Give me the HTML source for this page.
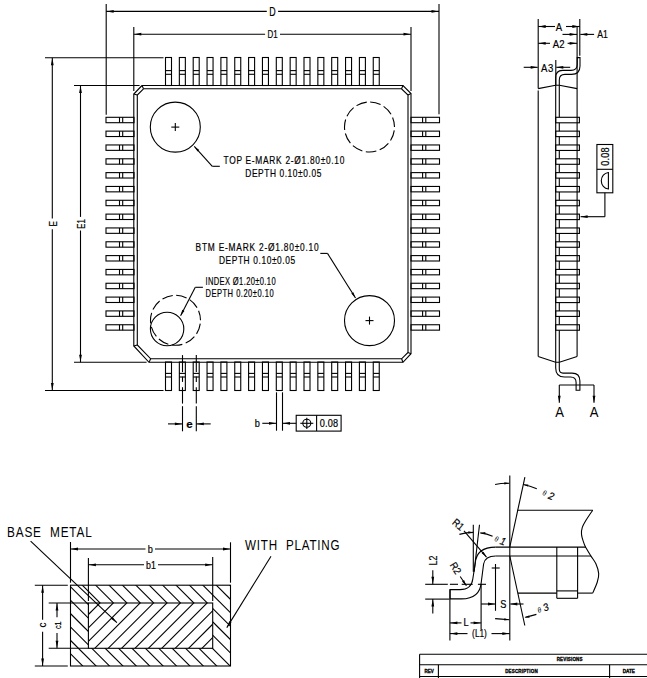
<!DOCTYPE html>
<html><head><meta charset="utf-8"><style>
html,body{margin:0;padding:0;background:#fff;width:647px;height:678px;overflow:hidden}
svg{display:block}
svg line,svg polyline,svg polygon,svg path,svg rect,svg circle{fill:none;stroke:#000;stroke-width:1.1}
svg .f{fill:#000;stroke:none}
svg .d{stroke-dasharray:10.78 3.5;stroke-dashoffset:10.8}
svg .d2{stroke-dasharray:18 4 6 4}
svg text{font-family:"Liberation Sans",sans-serif;fill:#000;stroke:#000;stroke-width:0.2}
svg text.tt{stroke:#000;stroke-width:0.35}
svg text.th{stroke:none}
</style></head><body>
<svg width="647" height="678" viewBox="0 0 647 678">
<rect x="165.50" y="57.50" width="6.00" height="28.00"/>
<line x1="165.50" y1="70.60" x2="171.50" y2="70.60"/>
<line x1="165.50" y1="74.30" x2="171.50" y2="74.30"/>
<rect x="179.35" y="57.50" width="6.00" height="28.00"/>
<line x1="179.35" y1="70.60" x2="185.35" y2="70.60"/>
<line x1="179.35" y1="74.30" x2="185.35" y2="74.30"/>
<rect x="193.20" y="57.50" width="6.00" height="28.00"/>
<line x1="193.20" y1="70.60" x2="199.20" y2="70.60"/>
<line x1="193.20" y1="74.30" x2="199.20" y2="74.30"/>
<rect x="207.05" y="57.50" width="6.00" height="28.00"/>
<line x1="207.05" y1="70.60" x2="213.05" y2="70.60"/>
<line x1="207.05" y1="74.30" x2="213.05" y2="74.30"/>
<rect x="220.90" y="57.50" width="6.00" height="28.00"/>
<line x1="220.90" y1="70.60" x2="226.90" y2="70.60"/>
<line x1="220.90" y1="74.30" x2="226.90" y2="74.30"/>
<rect x="234.75" y="57.50" width="6.00" height="28.00"/>
<line x1="234.75" y1="70.60" x2="240.75" y2="70.60"/>
<line x1="234.75" y1="74.30" x2="240.75" y2="74.30"/>
<rect x="248.60" y="57.50" width="6.00" height="28.00"/>
<line x1="248.60" y1="70.60" x2="254.60" y2="70.60"/>
<line x1="248.60" y1="74.30" x2="254.60" y2="74.30"/>
<rect x="262.45" y="57.50" width="6.00" height="28.00"/>
<line x1="262.45" y1="70.60" x2="268.45" y2="70.60"/>
<line x1="262.45" y1="74.30" x2="268.45" y2="74.30"/>
<rect x="276.30" y="57.50" width="6.00" height="28.00"/>
<line x1="276.30" y1="70.60" x2="282.30" y2="70.60"/>
<line x1="276.30" y1="74.30" x2="282.30" y2="74.30"/>
<rect x="290.15" y="57.50" width="6.00" height="28.00"/>
<line x1="290.15" y1="70.60" x2="296.15" y2="70.60"/>
<line x1="290.15" y1="74.30" x2="296.15" y2="74.30"/>
<rect x="304.00" y="57.50" width="6.00" height="28.00"/>
<line x1="304.00" y1="70.60" x2="310.00" y2="70.60"/>
<line x1="304.00" y1="74.30" x2="310.00" y2="74.30"/>
<rect x="317.85" y="57.50" width="6.00" height="28.00"/>
<line x1="317.85" y1="70.60" x2="323.85" y2="70.60"/>
<line x1="317.85" y1="74.30" x2="323.85" y2="74.30"/>
<rect x="331.70" y="57.50" width="6.00" height="28.00"/>
<line x1="331.70" y1="70.60" x2="337.70" y2="70.60"/>
<line x1="331.70" y1="74.30" x2="337.70" y2="74.30"/>
<rect x="345.55" y="57.50" width="6.00" height="28.00"/>
<line x1="345.55" y1="70.60" x2="351.55" y2="70.60"/>
<line x1="345.55" y1="74.30" x2="351.55" y2="74.30"/>
<rect x="359.40" y="57.50" width="6.00" height="28.00"/>
<line x1="359.40" y1="70.60" x2="365.40" y2="70.60"/>
<line x1="359.40" y1="74.30" x2="365.40" y2="74.30"/>
<rect x="373.25" y="57.50" width="6.00" height="28.00"/>
<line x1="373.25" y1="70.60" x2="379.25" y2="70.60"/>
<line x1="373.25" y1="74.30" x2="379.25" y2="74.30"/>
<rect x="165.50" y="362.00" width="6.00" height="28.50"/>
<line x1="165.50" y1="373.40" x2="171.50" y2="373.40"/>
<line x1="165.50" y1="377.00" x2="171.50" y2="377.00"/>
<rect x="179.35" y="362.00" width="6.00" height="28.50"/>
<line x1="179.35" y1="373.40" x2="185.35" y2="373.40"/>
<line x1="179.35" y1="377.00" x2="185.35" y2="377.00"/>
<rect x="193.20" y="362.00" width="6.00" height="28.50"/>
<line x1="193.20" y1="373.40" x2="199.20" y2="373.40"/>
<line x1="193.20" y1="377.00" x2="199.20" y2="377.00"/>
<rect x="207.05" y="362.00" width="6.00" height="28.50"/>
<line x1="207.05" y1="373.40" x2="213.05" y2="373.40"/>
<line x1="207.05" y1="377.00" x2="213.05" y2="377.00"/>
<rect x="220.90" y="362.00" width="6.00" height="28.50"/>
<line x1="220.90" y1="373.40" x2="226.90" y2="373.40"/>
<line x1="220.90" y1="377.00" x2="226.90" y2="377.00"/>
<rect x="234.75" y="362.00" width="6.00" height="28.50"/>
<line x1="234.75" y1="373.40" x2="240.75" y2="373.40"/>
<line x1="234.75" y1="377.00" x2="240.75" y2="377.00"/>
<rect x="248.60" y="362.00" width="6.00" height="28.50"/>
<line x1="248.60" y1="373.40" x2="254.60" y2="373.40"/>
<line x1="248.60" y1="377.00" x2="254.60" y2="377.00"/>
<rect x="262.45" y="362.00" width="6.00" height="28.50"/>
<line x1="262.45" y1="373.40" x2="268.45" y2="373.40"/>
<line x1="262.45" y1="377.00" x2="268.45" y2="377.00"/>
<rect x="276.30" y="362.00" width="6.00" height="28.50"/>
<line x1="276.30" y1="373.40" x2="282.30" y2="373.40"/>
<line x1="276.30" y1="377.00" x2="282.30" y2="377.00"/>
<rect x="290.15" y="362.00" width="6.00" height="28.50"/>
<line x1="290.15" y1="373.40" x2="296.15" y2="373.40"/>
<line x1="290.15" y1="377.00" x2="296.15" y2="377.00"/>
<rect x="304.00" y="362.00" width="6.00" height="28.50"/>
<line x1="304.00" y1="373.40" x2="310.00" y2="373.40"/>
<line x1="304.00" y1="377.00" x2="310.00" y2="377.00"/>
<rect x="317.85" y="362.00" width="6.00" height="28.50"/>
<line x1="317.85" y1="373.40" x2="323.85" y2="373.40"/>
<line x1="317.85" y1="377.00" x2="323.85" y2="377.00"/>
<rect x="331.70" y="362.00" width="6.00" height="28.50"/>
<line x1="331.70" y1="373.40" x2="337.70" y2="373.40"/>
<line x1="331.70" y1="377.00" x2="337.70" y2="377.00"/>
<rect x="345.55" y="362.00" width="6.00" height="28.50"/>
<line x1="345.55" y1="373.40" x2="351.55" y2="373.40"/>
<line x1="345.55" y1="377.00" x2="351.55" y2="377.00"/>
<rect x="359.40" y="362.00" width="6.00" height="28.50"/>
<line x1="359.40" y1="373.40" x2="365.40" y2="373.40"/>
<line x1="359.40" y1="377.00" x2="365.40" y2="377.00"/>
<rect x="373.25" y="362.00" width="6.00" height="28.50"/>
<line x1="373.25" y1="373.40" x2="379.25" y2="373.40"/>
<line x1="373.25" y1="377.00" x2="379.25" y2="377.00"/>
<rect x="106.00" y="117.30" width="28.00" height="5.40"/>
<line x1="119.50" y1="117.30" x2="119.50" y2="122.70"/>
<line x1="122.70" y1="117.30" x2="122.70" y2="122.70"/>
<rect x="106.00" y="131.13" width="28.00" height="5.40"/>
<line x1="119.50" y1="131.13" x2="119.50" y2="136.53"/>
<line x1="122.70" y1="131.13" x2="122.70" y2="136.53"/>
<rect x="106.00" y="144.96" width="28.00" height="5.40"/>
<line x1="119.50" y1="144.96" x2="119.50" y2="150.36"/>
<line x1="122.70" y1="144.96" x2="122.70" y2="150.36"/>
<rect x="106.00" y="158.79" width="28.00" height="5.40"/>
<line x1="119.50" y1="158.79" x2="119.50" y2="164.19"/>
<line x1="122.70" y1="158.79" x2="122.70" y2="164.19"/>
<rect x="106.00" y="172.62" width="28.00" height="5.40"/>
<line x1="119.50" y1="172.62" x2="119.50" y2="178.02"/>
<line x1="122.70" y1="172.62" x2="122.70" y2="178.02"/>
<rect x="106.00" y="186.45" width="28.00" height="5.40"/>
<line x1="119.50" y1="186.45" x2="119.50" y2="191.85"/>
<line x1="122.70" y1="186.45" x2="122.70" y2="191.85"/>
<rect x="106.00" y="200.28" width="28.00" height="5.40"/>
<line x1="119.50" y1="200.28" x2="119.50" y2="205.68"/>
<line x1="122.70" y1="200.28" x2="122.70" y2="205.68"/>
<rect x="106.00" y="214.11" width="28.00" height="5.40"/>
<line x1="119.50" y1="214.11" x2="119.50" y2="219.51"/>
<line x1="122.70" y1="214.11" x2="122.70" y2="219.51"/>
<rect x="106.00" y="227.94" width="28.00" height="5.40"/>
<line x1="119.50" y1="227.94" x2="119.50" y2="233.34"/>
<line x1="122.70" y1="227.94" x2="122.70" y2="233.34"/>
<rect x="106.00" y="241.77" width="28.00" height="5.40"/>
<line x1="119.50" y1="241.77" x2="119.50" y2="247.17"/>
<line x1="122.70" y1="241.77" x2="122.70" y2="247.17"/>
<rect x="106.00" y="255.60" width="28.00" height="5.40"/>
<line x1="119.50" y1="255.60" x2="119.50" y2="261.00"/>
<line x1="122.70" y1="255.60" x2="122.70" y2="261.00"/>
<rect x="106.00" y="269.43" width="28.00" height="5.40"/>
<line x1="119.50" y1="269.43" x2="119.50" y2="274.83"/>
<line x1="122.70" y1="269.43" x2="122.70" y2="274.83"/>
<rect x="106.00" y="283.26" width="28.00" height="5.40"/>
<line x1="119.50" y1="283.26" x2="119.50" y2="288.66"/>
<line x1="122.70" y1="283.26" x2="122.70" y2="288.66"/>
<rect x="106.00" y="297.09" width="28.00" height="5.40"/>
<line x1="119.50" y1="297.09" x2="119.50" y2="302.49"/>
<line x1="122.70" y1="297.09" x2="122.70" y2="302.49"/>
<rect x="106.00" y="310.92" width="28.00" height="5.40"/>
<line x1="119.50" y1="310.92" x2="119.50" y2="316.32"/>
<line x1="122.70" y1="310.92" x2="122.70" y2="316.32"/>
<rect x="106.00" y="324.75" width="28.00" height="5.40"/>
<line x1="119.50" y1="324.75" x2="119.50" y2="330.15"/>
<line x1="122.70" y1="324.75" x2="122.70" y2="330.15"/>
<rect x="411.00" y="117.30" width="28.50" height="5.40"/>
<line x1="422.60" y1="117.30" x2="422.60" y2="122.70"/>
<line x1="425.80" y1="117.30" x2="425.80" y2="122.70"/>
<rect x="411.00" y="131.13" width="28.50" height="5.40"/>
<line x1="422.60" y1="131.13" x2="422.60" y2="136.53"/>
<line x1="425.80" y1="131.13" x2="425.80" y2="136.53"/>
<rect x="411.00" y="144.96" width="28.50" height="5.40"/>
<line x1="422.60" y1="144.96" x2="422.60" y2="150.36"/>
<line x1="425.80" y1="144.96" x2="425.80" y2="150.36"/>
<rect x="411.00" y="158.79" width="28.50" height="5.40"/>
<line x1="422.60" y1="158.79" x2="422.60" y2="164.19"/>
<line x1="425.80" y1="158.79" x2="425.80" y2="164.19"/>
<rect x="411.00" y="172.62" width="28.50" height="5.40"/>
<line x1="422.60" y1="172.62" x2="422.60" y2="178.02"/>
<line x1="425.80" y1="172.62" x2="425.80" y2="178.02"/>
<rect x="411.00" y="186.45" width="28.50" height="5.40"/>
<line x1="422.60" y1="186.45" x2="422.60" y2="191.85"/>
<line x1="425.80" y1="186.45" x2="425.80" y2="191.85"/>
<rect x="411.00" y="200.28" width="28.50" height="5.40"/>
<line x1="422.60" y1="200.28" x2="422.60" y2="205.68"/>
<line x1="425.80" y1="200.28" x2="425.80" y2="205.68"/>
<rect x="411.00" y="214.11" width="28.50" height="5.40"/>
<line x1="422.60" y1="214.11" x2="422.60" y2="219.51"/>
<line x1="425.80" y1="214.11" x2="425.80" y2="219.51"/>
<rect x="411.00" y="227.94" width="28.50" height="5.40"/>
<line x1="422.60" y1="227.94" x2="422.60" y2="233.34"/>
<line x1="425.80" y1="227.94" x2="425.80" y2="233.34"/>
<rect x="411.00" y="241.77" width="28.50" height="5.40"/>
<line x1="422.60" y1="241.77" x2="422.60" y2="247.17"/>
<line x1="425.80" y1="241.77" x2="425.80" y2="247.17"/>
<rect x="411.00" y="255.60" width="28.50" height="5.40"/>
<line x1="422.60" y1="255.60" x2="422.60" y2="261.00"/>
<line x1="425.80" y1="255.60" x2="425.80" y2="261.00"/>
<rect x="411.00" y="269.43" width="28.50" height="5.40"/>
<line x1="422.60" y1="269.43" x2="422.60" y2="274.83"/>
<line x1="425.80" y1="269.43" x2="425.80" y2="274.83"/>
<rect x="411.00" y="283.26" width="28.50" height="5.40"/>
<line x1="422.60" y1="283.26" x2="422.60" y2="288.66"/>
<line x1="425.80" y1="283.26" x2="425.80" y2="288.66"/>
<rect x="411.00" y="297.09" width="28.50" height="5.40"/>
<line x1="422.60" y1="297.09" x2="422.60" y2="302.49"/>
<line x1="425.80" y1="297.09" x2="425.80" y2="302.49"/>
<rect x="411.00" y="310.92" width="28.50" height="5.40"/>
<line x1="422.60" y1="310.92" x2="422.60" y2="316.32"/>
<line x1="425.80" y1="310.92" x2="425.80" y2="316.32"/>
<rect x="411.00" y="324.75" width="28.50" height="5.40"/>
<line x1="422.60" y1="324.75" x2="422.60" y2="330.15"/>
<line x1="425.80" y1="324.75" x2="425.80" y2="330.15"/>
<polyline points="142.00,85.50 403.00,85.50 411.00,93.50 411.00,353.70 403.00,362.30 149.00,362.30 133.80,346.00 133.80,94.00 142.00,85.50"/>
<polyline points="143.50,88.80 401.50,88.80 408.00,95.00 408.00,352.50 401.60,358.80 150.70,358.80 137.30,345.00 137.30,95.00 143.50,88.80"/>
<line x1="133.80" y1="94.00" x2="137.30" y2="95.00"/>
<line x1="142.00" y1="85.50" x2="143.50" y2="88.80"/>
<line x1="403.00" y1="85.50" x2="401.50" y2="88.80"/>
<line x1="411.00" y1="93.50" x2="408.00" y2="95.00"/>
<line x1="411.00" y1="353.70" x2="408.00" y2="352.50"/>
<line x1="403.00" y1="362.30" x2="401.60" y2="358.80"/>
<line x1="133.80" y1="346.00" x2="137.30" y2="345.00"/>
<line x1="149.00" y1="362.30" x2="150.70" y2="358.80"/>
<line x1="106.20" y1="4.00" x2="106.20" y2="114.80"/>
<line x1="439.00" y1="4.00" x2="439.00" y2="114.20"/>
<line x1="106.20" y1="11.40" x2="266.80" y2="11.40"/>
<line x1="278.10" y1="11.40" x2="439.00" y2="11.40"/>
<polygon class="f" points="106.70,11.40 113.70,10.00 113.70,12.80"/>
<polygon class="f" points="438.50,11.40 431.50,12.80 431.50,10.00"/>
<text class="t" x="0.00" y="0.00" font-size="12.3" text-anchor="middle" textLength="8.88" lengthAdjust="spacing" transform="translate(272.50 15.80) rotate(0) scale(0.720484920123974 1)">D</text>
<line x1="133.80" y1="27.00" x2="133.80" y2="91.00"/>
<line x1="411.00" y1="27.00" x2="411.00" y2="91.00"/>
<line x1="133.80" y1="34.20" x2="265.10" y2="34.20"/>
<line x1="280.00" y1="34.20" x2="411.00" y2="34.20"/>
<polygon class="f" points="134.30,34.20 141.30,32.80 141.30,35.60"/>
<polygon class="f" points="410.50,34.20 403.50,35.60 403.50,32.80"/>
<text class="t" x="0.00" y="0.00" font-size="10.4" text-anchor="middle" textLength="13.29" lengthAdjust="spacing" transform="translate(272.60 38.10) rotate(0) scale(0.7672093230976077 1)">D1</text>
<line x1="45.00" y1="57.70" x2="163.50" y2="57.70"/>
<line x1="45.00" y1="390.50" x2="163.50" y2="390.50"/>
<line x1="52.30" y1="57.70" x2="52.30" y2="218.60"/>
<line x1="52.30" y1="229.20" x2="52.30" y2="390.50"/>
<polygon class="f" points="52.30,58.20 53.70,65.20 50.90,65.20"/>
<polygon class="f" points="52.30,390.00 50.90,383.00 53.70,383.00"/>
<text class="t" x="0.00" y="0.00" font-size="11.6" text-anchor="middle" textLength="7.74" lengthAdjust="spacing" transform="translate(56.50 223.90) rotate(-90) scale(0.6978942011776965 1)">E</text>
<line x1="74.00" y1="85.50" x2="139.60" y2="85.50"/>
<line x1="74.00" y1="362.30" x2="146.60" y2="362.30"/>
<line x1="80.50" y1="85.50" x2="80.50" y2="216.90"/>
<line x1="80.50" y1="230.50" x2="80.50" y2="362.30"/>
<polygon class="f" points="80.50,86.00 81.90,93.00 79.10,93.00"/>
<polygon class="f" points="80.50,361.80 79.10,354.80 81.90,354.80"/>
<text class="t" x="0.00" y="0.00" font-size="11.2" text-anchor="middle" textLength="13.70" lengthAdjust="spacing" transform="translate(85.00 224.00) rotate(-90) scale(0.686137647241307 1)">E1</text>
<circle cx="175.30" cy="127.10" r="25.00"/>
<line x1="171.30" y1="127.10" x2="179.30" y2="127.10"/>
<line x1="175.30" y1="123.10" x2="175.30" y2="131.10"/>
<line x1="194.30" y1="146.40" x2="212.30" y2="166.30"/>
<line x1="212.30" y1="166.30" x2="219.80" y2="166.30"/>
<polygon class="f" points="194.30,146.40 199.27,149.97 197.51,151.61"/>
<text class="t" x="0.00" y="0.00" font-size="10.2" text-anchor="start" textLength="147.44" lengthAdjust="spacing" transform="translate(223.50 163.50) rotate(0) scale(0.82 1)">TOP E-MARK 2-&#216;1.80&#177;0.10</text>
<text class="t" x="0.00" y="0.00" font-size="10.2" text-anchor="start" textLength="92.68" lengthAdjust="spacing" transform="translate(245.30 177.10) rotate(0) scale(0.82 1)">DEPTH 0.10&#177;0.05</text>
<circle cx="369.50" cy="127.00" r="25.00" class="d"/>
<text class="t" x="0.00" y="0.00" font-size="10.2" text-anchor="start" textLength="150.12" lengthAdjust="spacing" transform="translate(195.60 251.00) rotate(0) scale(0.82 1)">BTM E-MARK 2-&#216;1.80&#177;0.10</text>
<text class="t" x="0.00" y="0.00" font-size="10.2" text-anchor="start" textLength="93.05" lengthAdjust="spacing" transform="translate(218.90 263.90) rotate(0) scale(0.82 1)">DEPTH 0.10&#177;0.05</text>
<line x1="320.30" y1="253.40" x2="327.50" y2="253.40"/>
<line x1="327.50" y1="253.40" x2="355.50" y2="298.00"/>
<polygon class="f" points="355.50,298.00 351.31,293.54 353.34,292.27"/>
<circle cx="369.50" cy="320.60" r="25.00"/>
<line x1="365.50" y1="320.60" x2="373.50" y2="320.60"/>
<line x1="369.50" y1="316.60" x2="369.50" y2="324.60"/>
<circle cx="175.50" cy="320.30" r="25.00" class="d"/>
<circle cx="167.10" cy="329.00" r="16.70"/>
<text class="t" x="0.00" y="0.00" font-size="10.5" text-anchor="start" textLength="97.36" lengthAdjust="spacing" transform="translate(205.50 285.00) rotate(0) scale(0.72 1)">INDEX &#216;1.20&#177;0.10</text>
<text class="t" x="0.00" y="0.00" font-size="10.5" text-anchor="start" textLength="94.58" lengthAdjust="spacing" transform="translate(205.50 296.80) rotate(0) scale(0.72 1)">DEPTH 0.20&#177;0.10</text>
<line x1="180.60" y1="315.70" x2="195.30" y2="287.30"/>
<line x1="195.30" y1="287.30" x2="202.90" y2="287.30"/>
<polygon class="f" points="180.60,315.70 182.29,309.82 184.42,310.92"/>
<line x1="182.50" y1="355.10" x2="182.50" y2="372.10"/>
<line x1="182.50" y1="376.60" x2="182.50" y2="381.90"/>
<line x1="182.50" y1="387.20" x2="182.50" y2="403.60"/>
<line x1="182.50" y1="406.20" x2="182.50" y2="431.30"/>
<line x1="196.30" y1="355.10" x2="196.30" y2="372.10"/>
<line x1="196.30" y1="376.60" x2="196.30" y2="381.90"/>
<line x1="196.30" y1="387.20" x2="196.30" y2="403.60"/>
<line x1="196.30" y1="406.20" x2="196.30" y2="431.30"/>
<line x1="168.00" y1="423.90" x2="182.40" y2="423.90"/>
<polygon class="f" points="181.90,423.90 174.90,425.30 174.90,422.50"/>
<line x1="196.30" y1="423.90" x2="210.70" y2="423.90"/>
<polygon class="f" points="196.80,423.90 203.80,422.50 203.80,425.30"/>
<text class="t" x="189.40" y="427.60" font-size="11.5" text-anchor="middle" font-weight="bold" font-family="Liberation Serif">e</text>
<line x1="276.50" y1="392.30" x2="276.50" y2="430.70"/>
<line x1="282.50" y1="392.30" x2="282.50" y2="430.70"/>
<line x1="262.30" y1="423.30" x2="276.50" y2="423.30"/>
<polygon class="f" points="276.00,423.30 269.00,424.70 269.00,421.90"/>
<line x1="283.00" y1="423.30" x2="296.20" y2="423.30"/>
<polygon class="f" points="283.00,423.30 290.00,421.90 290.00,424.70"/>
<text class="t" x="0.00" y="0.00" font-size="10.0" text-anchor="start" textLength="5.87" lengthAdjust="spacing" transform="translate(254.80 427.00) rotate(0) scale(0.92 1)">b</text>
<rect x="296.20" y="415.30" width="44.90" height="15.80"/>
<line x1="316.60" y1="415.30" x2="316.60" y2="431.10"/>
<circle cx="306.80" cy="423.30" r="4.00"/>
<line x1="300.30" y1="423.30" x2="313.30" y2="423.30"/>
<line x1="306.80" y1="417.70" x2="306.80" y2="428.90"/>
<text class="t" x="0.00" y="0.00" font-size="10.0" text-anchor="start" textLength="20.00" lengthAdjust="spacing" transform="translate(319.80 427.00) rotate(0) scale(0.92 1)">0.08</text>
<line x1="538.20" y1="19.00" x2="538.20" y2="88.40"/>
<line x1="538.20" y1="90.60" x2="538.20" y2="356.60"/>
<line x1="579.80" y1="19.00" x2="579.80" y2="55.70"/>
<line x1="577.10" y1="27.00" x2="577.10" y2="356.60"/>
<polyline points="538.20,88.60 555.60,85.20 559.40,85.20 577.10,88.60"/>
<polyline points="538.20,356.60 555.60,362.20 559.40,362.20 577.10,356.60"/>
<path d="M555.7,85.2 V77.5 Q555.7,70.4 562.5,70.4 H571 Q577.2,70.4 577.2,64.5 V57.6 H580 V66 Q580,74.4 571.5,74.4 H565 Q559.3,74.4 559.3,80 V85.2"/>
<path d="M555.7,362.2 V368 Q555.7,377 564.5,377 H570.5 Q576.1,377 576.1,382.5 V390.2 H579.9 V381 Q579.9,373.1 572,373.1 H563 Q559.3,373.1 559.3,369 V362.2"/>
<line x1="555.70" y1="85.20" x2="555.70" y2="362.20"/>
<line x1="559.30" y1="85.20" x2="559.30" y2="117.30"/>
<rect x="555.70" y="117.30" width="23.70" height="5.50"/>
<line x1="559.30" y1="122.80" x2="559.30" y2="131.13"/>
<rect x="555.70" y="131.13" width="23.70" height="5.50"/>
<line x1="559.30" y1="136.63" x2="559.30" y2="144.96"/>
<rect x="555.70" y="144.96" width="23.70" height="5.50"/>
<line x1="559.30" y1="150.46" x2="559.30" y2="158.79"/>
<rect x="555.70" y="158.79" width="23.70" height="5.50"/>
<line x1="559.30" y1="164.29" x2="559.30" y2="172.62"/>
<rect x="555.70" y="172.62" width="23.70" height="5.50"/>
<line x1="559.30" y1="178.12" x2="559.30" y2="186.45"/>
<rect x="555.70" y="186.45" width="23.70" height="5.50"/>
<line x1="559.30" y1="191.95" x2="559.30" y2="200.28"/>
<rect x="555.70" y="200.28" width="23.70" height="5.50"/>
<line x1="559.30" y1="205.78" x2="559.30" y2="214.11"/>
<rect x="555.70" y="214.11" width="23.70" height="5.50"/>
<line x1="559.30" y1="219.61" x2="559.30" y2="227.94"/>
<rect x="555.70" y="227.94" width="23.70" height="5.50"/>
<line x1="559.30" y1="233.44" x2="559.30" y2="241.77"/>
<rect x="555.70" y="241.77" width="23.70" height="5.50"/>
<line x1="559.30" y1="247.27" x2="559.30" y2="255.60"/>
<rect x="555.70" y="255.60" width="23.70" height="5.50"/>
<line x1="559.30" y1="261.10" x2="559.30" y2="269.43"/>
<rect x="555.70" y="269.43" width="23.70" height="5.50"/>
<line x1="559.30" y1="274.93" x2="559.30" y2="283.26"/>
<rect x="555.70" y="283.26" width="23.70" height="5.50"/>
<line x1="559.30" y1="288.76" x2="559.30" y2="297.09"/>
<rect x="555.70" y="297.09" width="23.70" height="5.50"/>
<line x1="559.30" y1="302.59" x2="559.30" y2="310.92"/>
<rect x="555.70" y="310.92" width="23.70" height="5.50"/>
<line x1="559.30" y1="316.42" x2="559.30" y2="324.75"/>
<rect x="555.70" y="324.75" width="23.70" height="5.50"/>
<line x1="559.30" y1="330.25" x2="559.30" y2="362.20"/>
<line x1="538.20" y1="26.50" x2="555.00" y2="26.50"/>
<line x1="566.00" y1="26.50" x2="579.80" y2="26.50"/>
<polygon class="f" points="538.70,26.50 545.70,25.10 545.70,27.90"/>
<polygon class="f" points="579.30,26.50 572.30,27.90 572.30,25.10"/>
<text class="t" x="0.00" y="0.00" font-size="10.4" text-anchor="middle" textLength="7.72" lengthAdjust="spacing" transform="translate(559.00 30.60) rotate(0) scale(0.92 1)">A</text>
<line x1="562.50" y1="34.40" x2="577.10" y2="34.40"/>
<polygon class="f" points="576.60,34.40 569.60,35.80 569.60,33.00"/>
<line x1="580.30" y1="34.40" x2="594.10" y2="34.40"/>
<polygon class="f" points="580.30,34.40 587.30,33.00 587.30,35.80"/>
<text class="t" x="0.00" y="0.00" font-size="10.4" text-anchor="start" textLength="12.72" lengthAdjust="spacing" transform="translate(597.30 38.40) rotate(0) scale(0.8332473555696397 1)">A1</text>
<line x1="538.20" y1="43.30" x2="550.00" y2="43.30"/>
<line x1="567.60" y1="43.30" x2="577.10" y2="43.30"/>
<polygon class="f" points="538.70,43.30 545.70,41.90 545.70,44.70"/>
<polygon class="f" points="576.60,43.30 569.60,44.70 569.60,41.90"/>
<text class="t" x="0.00" y="0.00" font-size="10.4" text-anchor="middle" textLength="12.93" lengthAdjust="spacing" transform="translate(558.70 47.60) rotate(0) scale(0.92 1)">A2</text>
<line x1="555.80" y1="60.00" x2="555.80" y2="85.00"/>
<line x1="523.70" y1="67.30" x2="537.70" y2="67.30"/>
<polygon class="f" points="537.70,67.30 530.70,68.70 530.70,65.90"/>
<line x1="556.30" y1="67.30" x2="570.20" y2="67.30"/>
<polygon class="f" points="556.30,67.30 563.30,65.90 563.30,68.70"/>
<text class="t" x="0.00" y="0.00" font-size="10.4" text-anchor="start" textLength="13.48" lengthAdjust="spacing" transform="translate(541.00 71.60) rotate(0) scale(0.92 1)">A3</text>
<line x1="559.30" y1="385.00" x2="594.00" y2="385.00"/>
<line x1="559.30" y1="385.00" x2="559.30" y2="402.70"/>
<line x1="594.00" y1="385.00" x2="594.00" y2="402.70"/>
<polygon class="f" points="559.30,402.70 557.90,395.70 560.70,395.70"/>
<polygon class="f" points="594.00,402.70 592.60,395.70 595.40,395.70"/>
<text class="th" x="0.00" y="0.00" font-size="14.2" text-anchor="middle" textLength="9.67" lengthAdjust="spacing" transform="translate(559.50 416.80) rotate(0) scale(0.92 1)">A</text>
<text class="th" x="0.00" y="0.00" font-size="14.2" text-anchor="middle" textLength="9.67" lengthAdjust="spacing" transform="translate(594.20 416.80) rotate(0) scale(0.92 1)">A</text>
<rect x="596.90" y="144.50" width="15.90" height="48.30"/>
<line x1="596.90" y1="169.30" x2="612.80" y2="169.30"/>
<text class="t" x="0.00" y="0.00" font-size="10.0" text-anchor="middle" textLength="20.00" lengthAdjust="spacing" transform="translate(608.60 156.50) rotate(-90) scale(0.92 1)">0.08</text>
<path d="M608.4,172.5 A8,8.3 0 0 0 608.4,189 Z"/>
<line x1="604.90" y1="192.80" x2="604.90" y2="216.70"/>
<line x1="604.90" y1="216.70" x2="580.60" y2="216.70"/>
<polygon class="f" points="580.60,216.70 587.60,215.30 587.60,218.10"/>
<text class="th" x="0.00" y="0.00" font-size="14.4" text-anchor="start" textLength="103.41" lengthAdjust="spacing" transform="translate(7.00 537.00) rotate(0) scale(0.82 1)">BASE&#160;&#160;METAL</text>
<line x1="30.60" y1="541.20" x2="116.90" y2="622.70"/>
<polygon class="f" points="116.90,622.70 110.92,618.84 112.71,616.95"/>
<text class="th" x="0.00" y="0.00" font-size="14.2" text-anchor="start" textLength="115.37" lengthAdjust="spacing" transform="translate(245.00 550.00) rotate(0) scale(0.82 1)">WITH&#160;&#160;PLATING</text>
<line x1="271.00" y1="556.30" x2="226.80" y2="627.60"/>
<polygon class="f" points="226.80,627.60 229.38,620.97 231.59,622.34"/>
<rect x="70.50" y="585.20" width="160.00" height="80.80"/>
<rect x="88.40" y="603.00" width="124.30" height="45.30"/>
<clipPath id="cb"><path clip-rule="evenodd" d="M70.5,585.2 H230.5 V666.0 H70.5 Z M88.4,603.0 H212.7 V648.3 H88.4 Z"/></clipPath>
<clipPath id="ci"><rect x="88.4" y="603.0" width="124.29999999999998" height="45.299999999999955"/></clipPath>
<g clip-path="url(#cb)">
<line x1="-160.90" y1="583.20" x2="-76.10" y2="668.00"/>
<line x1="-147.50" y1="583.20" x2="-62.70" y2="668.00"/>
<line x1="-134.10" y1="583.20" x2="-49.30" y2="668.00"/>
<line x1="-120.70" y1="583.20" x2="-35.90" y2="668.00"/>
<line x1="-107.30" y1="583.20" x2="-22.50" y2="668.00"/>
<line x1="-93.90" y1="583.20" x2="-9.10" y2="668.00"/>
<line x1="-80.50" y1="583.20" x2="4.30" y2="668.00"/>
<line x1="-67.10" y1="583.20" x2="17.70" y2="668.00"/>
<line x1="-53.70" y1="583.20" x2="31.10" y2="668.00"/>
<line x1="-40.30" y1="583.20" x2="44.50" y2="668.00"/>
<line x1="-26.90" y1="583.20" x2="57.90" y2="668.00"/>
<line x1="-13.50" y1="583.20" x2="71.30" y2="668.00"/>
<line x1="-0.10" y1="583.20" x2="84.70" y2="668.00"/>
<line x1="13.30" y1="583.20" x2="98.10" y2="668.00"/>
<line x1="26.70" y1="583.20" x2="111.50" y2="668.00"/>
<line x1="40.10" y1="583.20" x2="124.90" y2="668.00"/>
<line x1="53.50" y1="583.20" x2="138.30" y2="668.00"/>
<line x1="66.90" y1="583.20" x2="151.70" y2="668.00"/>
<line x1="80.30" y1="583.20" x2="165.10" y2="668.00"/>
<line x1="93.70" y1="583.20" x2="178.50" y2="668.00"/>
<line x1="107.10" y1="583.20" x2="191.90" y2="668.00"/>
<line x1="120.50" y1="583.20" x2="205.30" y2="668.00"/>
<line x1="133.90" y1="583.20" x2="218.70" y2="668.00"/>
<line x1="147.30" y1="583.20" x2="232.10" y2="668.00"/>
<line x1="160.70" y1="583.20" x2="245.50" y2="668.00"/>
<line x1="174.10" y1="583.20" x2="258.90" y2="668.00"/>
<line x1="187.50" y1="583.20" x2="272.30" y2="668.00"/>
<line x1="200.90" y1="583.20" x2="285.70" y2="668.00"/>
<line x1="214.30" y1="583.20" x2="299.10" y2="668.00"/>
<line x1="227.70" y1="583.20" x2="312.50" y2="668.00"/>
<line x1="241.10" y1="583.20" x2="325.90" y2="668.00"/>
<line x1="254.50" y1="583.20" x2="339.30" y2="668.00"/>
</g><g clip-path="url(#ci)">
<line x1="-58.90" y1="601.00" x2="-108.20" y2="650.30"/>
<line x1="-45.50" y1="601.00" x2="-94.80" y2="650.30"/>
<line x1="-32.10" y1="601.00" x2="-81.40" y2="650.30"/>
<line x1="-18.70" y1="601.00" x2="-68.00" y2="650.30"/>
<line x1="-5.30" y1="601.00" x2="-54.60" y2="650.30"/>
<line x1="8.10" y1="601.00" x2="-41.20" y2="650.30"/>
<line x1="21.50" y1="601.00" x2="-27.80" y2="650.30"/>
<line x1="34.90" y1="601.00" x2="-14.40" y2="650.30"/>
<line x1="48.30" y1="601.00" x2="-1.00" y2="650.30"/>
<line x1="61.70" y1="601.00" x2="12.40" y2="650.30"/>
<line x1="75.10" y1="601.00" x2="25.80" y2="650.30"/>
<line x1="88.50" y1="601.00" x2="39.20" y2="650.30"/>
<line x1="101.90" y1="601.00" x2="52.60" y2="650.30"/>
<line x1="115.30" y1="601.00" x2="66.00" y2="650.30"/>
<line x1="128.70" y1="601.00" x2="79.40" y2="650.30"/>
<line x1="142.10" y1="601.00" x2="92.80" y2="650.30"/>
<line x1="155.50" y1="601.00" x2="106.20" y2="650.30"/>
<line x1="168.90" y1="601.00" x2="119.60" y2="650.30"/>
<line x1="182.30" y1="601.00" x2="133.00" y2="650.30"/>
<line x1="195.70" y1="601.00" x2="146.40" y2="650.30"/>
<line x1="209.10" y1="601.00" x2="159.80" y2="650.30"/>
<line x1="222.50" y1="601.00" x2="173.20" y2="650.30"/>
<line x1="235.90" y1="601.00" x2="186.60" y2="650.30"/>
<line x1="249.30" y1="601.00" x2="200.00" y2="650.30"/>
<line x1="262.70" y1="601.00" x2="213.40" y2="650.30"/>
<line x1="276.10" y1="601.00" x2="226.80" y2="650.30"/>
<line x1="289.50" y1="601.00" x2="240.20" y2="650.30"/>
<line x1="302.90" y1="601.00" x2="253.60" y2="650.30"/>
<line x1="316.30" y1="601.00" x2="267.00" y2="650.30"/>
<line x1="329.70" y1="601.00" x2="280.40" y2="650.30"/>
<line x1="343.10" y1="601.00" x2="293.80" y2="650.30"/>
<line x1="356.50" y1="601.00" x2="307.20" y2="650.30"/>
</g>
<line x1="70.50" y1="542.00" x2="70.50" y2="582.70"/>
<line x1="230.50" y1="542.30" x2="230.50" y2="582.70"/>
<line x1="70.50" y1="549.00" x2="145.50" y2="549.00"/>
<line x1="155.00" y1="549.00" x2="230.50" y2="549.00"/>
<polygon class="f" points="71.00,549.00 78.00,547.60 78.00,550.40"/>
<polygon class="f" points="230.00,549.00 223.00,550.40 223.00,547.60"/>
<text class="t" x="0.00" y="0.00" font-size="10.0" text-anchor="middle" textLength="6.30" lengthAdjust="spacing" transform="translate(150.30 552.80) rotate(0) scale(0.92 1)">b</text>
<line x1="88.40" y1="557.90" x2="88.40" y2="600.90"/>
<line x1="212.70" y1="557.00" x2="212.70" y2="600.90"/>
<line x1="88.40" y1="564.80" x2="144.00" y2="564.80"/>
<line x1="158.00" y1="564.80" x2="212.70" y2="564.80"/>
<polygon class="f" points="88.90,564.80 95.90,563.40 95.90,566.20"/>
<polygon class="f" points="212.20,564.80 205.20,566.20 205.20,563.40"/>
<text class="t" x="0.00" y="0.00" font-size="10.0" text-anchor="middle" textLength="11.12" lengthAdjust="spacing" transform="translate(151.00 568.60) rotate(0) scale(0.88102261553589 1)">b1</text>
<line x1="34.80" y1="585.20" x2="67.80" y2="585.20"/>
<line x1="34.80" y1="666.00" x2="67.80" y2="666.00"/>
<line x1="42.60" y1="585.20" x2="42.60" y2="619.80"/>
<line x1="42.60" y1="631.80" x2="42.60" y2="666.00"/>
<polygon class="f" points="42.60,585.70 44.00,592.70 41.20,592.70"/>
<polygon class="f" points="42.60,665.50 41.20,658.50 44.00,658.50"/>
<text class="t" x="46.40" y="625.00" font-size="10.0" text-anchor="middle" transform="rotate(-90 46.40 625.00)">c</text>
<line x1="48.70" y1="603.00" x2="88.40" y2="603.00"/>
<line x1="48.70" y1="648.30" x2="88.40" y2="648.30"/>
<line x1="57.00" y1="603.00" x2="57.00" y2="617.20"/>
<line x1="57.00" y1="633.10" x2="57.00" y2="648.30"/>
<polygon class="f" points="57.00,603.50 58.40,610.50 55.60,610.50"/>
<polygon class="f" points="57.00,647.80 55.60,640.80 58.40,640.80"/>
<text class="t" x="0.00" y="0.00" font-size="9.6" text-anchor="middle" textLength="10.14" lengthAdjust="spacing" transform="translate(60.60 625.20) rotate(-90) scale(0.7495623443548587 1)">c1</text>
<line x1="509.80" y1="475.60" x2="509.80" y2="640.50"/>
<line x1="524.90" y1="477.10" x2="509.80" y2="547.00"/>
<line x1="509.80" y1="556.00" x2="524.80" y2="625.50"/>
<line x1="517.20" y1="510.30" x2="592.90" y2="510.30"/>
<line x1="517.80" y1="593.10" x2="556.80" y2="593.10"/>
<line x1="577.60" y1="593.10" x2="592.70" y2="593.10"/>
<path d="M592.70,510.30 C591.72,511.75 588.53,516.15 586.80,519.00 C585.07,521.85 583.18,524.83 582.30,527.40 C581.42,529.97 581.33,532.07 581.50,534.40 C581.67,536.73 582.65,539.35 583.30,541.40 C583.95,543.45 584.12,544.25 585.40,546.70 C586.68,549.15 589.25,553.25 591.00,556.10 C592.75,558.95 594.62,560.88 595.90,563.80 C597.18,566.72 598.47,570.57 598.70,573.60 C598.93,576.63 598.30,578.75 597.30,582.00 C596.30,585.25 593.47,591.25 592.70,593.10"/>
<line x1="495.70" y1="547.10" x2="586.00" y2="547.10"/>
<line x1="495.70" y1="556.00" x2="591.00" y2="556.00"/>
<line x1="556.80" y1="547.10" x2="556.80" y2="598.30"/>
<line x1="577.60" y1="547.10" x2="577.60" y2="598.30"/>
<line x1="556.80" y1="590.90" x2="577.60" y2="590.90"/>
<line x1="556.80" y1="598.30" x2="577.60" y2="598.30"/>
<path d="M495.7,547.1 Q476.5,547.1 475.3,563 L472.8,579 Q471.5,589.6 460,589.6 L450.1,589.6 L450.1,598.9 L461.4,598.9 Q480,598.9 481.3,582 L483.6,564 Q485,556 495.7,556.0"/>
<line x1="473.30" y1="524.70" x2="473.30" y2="571.80"/>
<line x1="479.50" y1="524.70" x2="474.10" y2="571.80"/>
<path d="M480.3,532.9 Q487,533.5 492.6,536.3"/>
<polygon class="f" points="480.30,532.90 485.35,532.05 485.24,534.25"/>
<path d="M459.4,534.4 Q466,532.5 473.3,532.4"/>
<polygon class="f" points="473.30,532.40 468.30,533.50 468.30,531.30"/>
<text class="th" x="0.00" y="0.00" font-size="7.2" text-anchor="start" textLength="4.78" lengthAdjust="spacing" transform="translate(494.00 540.80) rotate(20) scale(0.92 1)" font-style="italic">&#952;</text>
<text class="t" x="0.00" y="0.00" font-size="10.5" text-anchor="start" textLength="5.87" lengthAdjust="spacing" transform="translate(499.20 543.80) rotate(20) scale(0.92 1)" font-style="italic">1</text>
<path d="M523.2,484.5 Q530,486 536.8,488.7"/>
<polygon class="f" points="523.20,484.50 528.32,484.40 527.89,486.56"/>
<path d="M495.1,484.5 Q502,483 509.3,483.3"/>
<polygon class="f" points="509.30,483.30 504.30,484.40 504.30,482.20"/>
<text class="th" x="0.00" y="0.00" font-size="7.2" text-anchor="start" textLength="4.78" lengthAdjust="spacing" transform="translate(542.00 494.70) rotate(20) scale(0.92 1)" font-style="italic">&#952;</text>
<text class="t" x="0.00" y="0.00" font-size="10.5" text-anchor="start" textLength="6.74" lengthAdjust="spacing" transform="translate(547.60 498.40) rotate(20) scale(0.92 1)" font-style="italic">2</text>
<path d="M525.3,617.2 Q531,616 536.4,614.4"/>
<polygon class="f" points="524.50,617.60 529.19,615.54 529.62,617.70"/>
<text class="th" x="0.00" y="0.00" font-size="7.2" text-anchor="start" textLength="4.78" lengthAdjust="spacing" transform="translate(538.50 613.00) rotate(-20) scale(0.92 1)" font-style="italic">&#952;</text>
<text class="t" x="0.00" y="0.00" font-size="10.5" text-anchor="start" textLength="6.74" lengthAdjust="spacing" transform="translate(544.50 611.50) rotate(-20) scale(0.92 1)" font-style="italic">3</text>
<line x1="464.00" y1="530.90" x2="486.50" y2="557.10"/>
<polygon class="f" points="486.50,557.10 481.69,553.32 483.51,551.76"/>
<text class="t" x="0.00" y="0.00" font-size="10.5" text-anchor="start" textLength="13.42" lengthAdjust="spacing" transform="translate(451.50 523.50) rotate(40) scale(0.8791029704065212 1)">R1</text>
<line x1="460.20" y1="576.50" x2="466.40" y2="585.70"/>
<polygon class="f" points="466.40,585.70 462.05,581.40 464.04,580.06"/>
<text class="t" x="0.00" y="0.00" font-size="10.3" text-anchor="start" textLength="13.17" lengthAdjust="spacing" transform="translate(449.50 565.00) rotate(58) scale(0.896172930996939 1)">R2</text>
<line x1="491.70" y1="568.00" x2="499.70" y2="568.00"/>
<line x1="495.50" y1="564.00" x2="495.50" y2="610.80"/>
<line x1="481.10" y1="584.00" x2="481.10" y2="629.40"/>
<line x1="425.20" y1="584.30" x2="447.80" y2="584.30"/>
<line x1="449.90" y1="584.30" x2="458.00" y2="584.30"/>
<line x1="461.70" y1="584.30" x2="472.70" y2="584.30"/>
<line x1="477.90" y1="584.30" x2="486.00" y2="584.30"/>
<line x1="425.20" y1="599.10" x2="449.30" y2="599.10"/>
<line x1="432.80" y1="570.30" x2="432.80" y2="584.30"/>
<polygon class="f" points="432.80,583.80 431.40,576.80 434.20,576.80"/>
<line x1="432.80" y1="599.10" x2="432.80" y2="613.60"/>
<polygon class="f" points="432.80,599.60 434.20,606.60 431.40,606.60"/>
<text class="t" x="0.00" y="0.00" font-size="10.0" text-anchor="middle" textLength="11.12" lengthAdjust="spacing" transform="translate(436.70 560.50) rotate(-90) scale(0.88102261553589 1)">L2</text>
<line x1="481.10" y1="604.00" x2="495.00" y2="604.00"/>
<polygon class="f" points="495.00,604.00 488.00,605.40 488.00,602.60"/>
<line x1="510.30" y1="604.00" x2="523.50" y2="604.00"/>
<polygon class="f" points="510.30,604.00 517.30,602.60 517.30,605.40"/>
<text class="t" x="0.00" y="0.00" font-size="10.0" text-anchor="start" textLength="6.74" lengthAdjust="spacing" transform="translate(500.30 607.70) rotate(0) scale(0.92 1)">S</text>
<path d="M495.1,618.6 Q501,619.2 509.3,619.7"/>
<polygon class="f" points="509.30,619.70 504.25,620.55 504.36,618.35"/>
<line x1="449.90" y1="589.50" x2="449.90" y2="640.50"/>
<line x1="449.90" y1="622.90" x2="461.50" y2="622.90"/>
<polygon class="f" points="450.40,622.90 457.40,621.50 457.40,624.30"/>
<line x1="470.50" y1="622.90" x2="481.10" y2="622.90"/>
<polygon class="f" points="480.60,622.90 473.60,624.30 473.60,621.50"/>
<text class="t" x="0.00" y="0.00" font-size="10.0" text-anchor="middle" textLength="5.76" lengthAdjust="spacing" transform="translate(466.00 626.30) rotate(0) scale(0.92 1)">L</text>
<line x1="449.90" y1="633.60" x2="467.50" y2="633.60"/>
<polygon class="f" points="450.40,633.60 457.40,632.20 457.40,635.00"/>
<line x1="491.50" y1="633.60" x2="509.80" y2="633.60"/>
<polygon class="f" points="509.30,633.60 502.30,635.00 502.30,632.20"/>
<text class="t" x="0.00" y="0.00" font-size="10.0" text-anchor="middle" textLength="17.78" lengthAdjust="spacing" transform="translate(479.50 637.40) rotate(0) scale(0.8321911790546479 1)">(L1)</text>
<line x1="419.60" y1="654.30" x2="647.00" y2="654.30"/>
<line x1="419.60" y1="664.80" x2="647.00" y2="664.80"/>
<line x1="419.60" y1="676.50" x2="647.00" y2="676.50"/>
<line x1="419.60" y1="654.30" x2="419.60" y2="678.00"/>
<line x1="438.40" y1="664.80" x2="438.40" y2="678.00"/>
<line x1="609.60" y1="664.80" x2="609.60" y2="678.00"/>
<text class="tt" x="0.00" y="0.00" font-size="5.5" text-anchor="middle" textLength="31.46" lengthAdjust="spacing" transform="translate(569.60 661.00) rotate(0) scale(0.82 1)" font-weight="bold">REVISIONS</text>
<text class="tt" x="0.00" y="0.00" font-size="5.5" text-anchor="middle" textLength="11.31" lengthAdjust="spacing" transform="translate(429.10 673.40) rotate(0) scale(0.8223266095606522 1)" font-weight="bold">REV</text>
<text class="tt" x="0.00" y="0.00" font-size="5.5" text-anchor="middle" textLength="39.63" lengthAdjust="spacing" transform="translate(521.40 673.40) rotate(0) scale(0.82 1)" font-weight="bold">DESCRIPTION</text>
<text class="tt" x="0.00" y="0.00" font-size="5.5" text-anchor="middle" textLength="14.56" lengthAdjust="spacing" transform="translate(628.80 673.40) rotate(0) scale(0.8445332510828898 1)" font-weight="bold">DATE</text>
</svg>
</body></html>
